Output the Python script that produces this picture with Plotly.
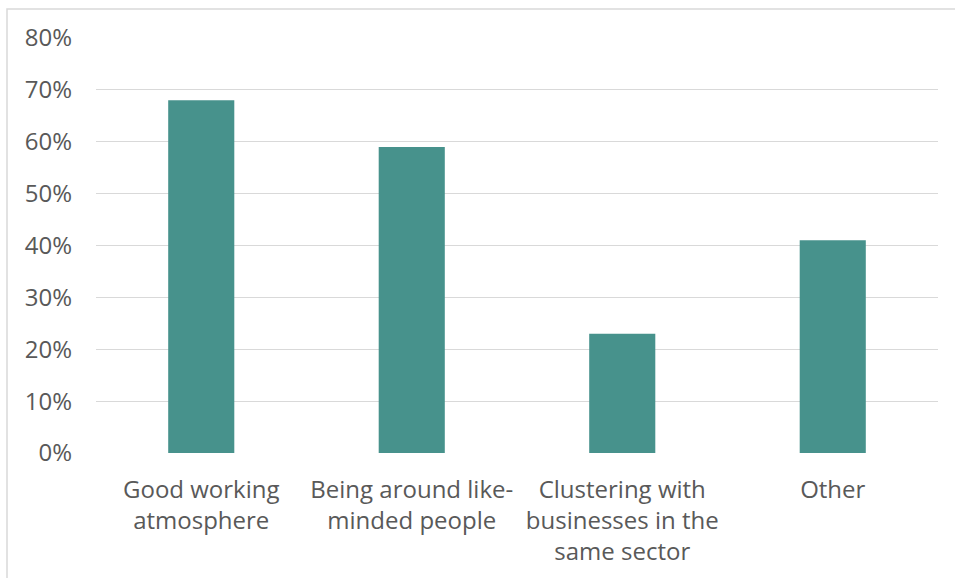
import plotly.graph_objects as go

categories = ["Good working<br>atmosphere", "Being around like-<br>minded people",
              "Clustering with<br>businesses in the<br>same sector", "Other"]
values = [0.68, 0.59, 0.23, 0.41]
tick_vals = [0, 0.1, 0.2, 0.3, 0.4, 0.5, 0.6, 0.7, 0.8]

W, H = 955, 578
L, R, T, B = 96, 17, 38, 125
pw, ph = W - L - R, H - T - B

fig = go.Figure(go.Bar(x=categories, y=values, marker_color="#47928c", marker_line_width=0))

fig.update_layout(
    width=W, height=H,
    margin=dict(l=L, r=R, t=T, b=B),
    paper_bgcolor="white", plot_bgcolor="white",
    bargap=0.686,
    showlegend=False,
    font=dict(family="Open Sans", size=24, color="#595959"),
    xaxis=dict(showgrid=False, showline=False, ticks="", tickfont=dict(size=24),
               ticklabelstandoff=20),
    yaxis=dict(range=[0, 0.8], tickvals=tick_vals, tickformat=".0%",
               showgrid=True, gridcolor="#d9d9d9", gridwidth=1.3,
               zeroline=False, showline=False, ticks="", ticklabelstandoff=23),
    shapes=[dict(type="rect", xref="paper", yref="paper",
                 x0=(7 - L) / pw, x1=(W + 20 - L) / pw,
                 y0=-(H + 20 - T - ph) / ph, y1=1 + (T - 9) / ph,
                 line=dict(color="#d9d9d9", width=1.5), fillcolor="rgba(0,0,0,0)", layer="below")],
)

fig.write_html("out.html")
